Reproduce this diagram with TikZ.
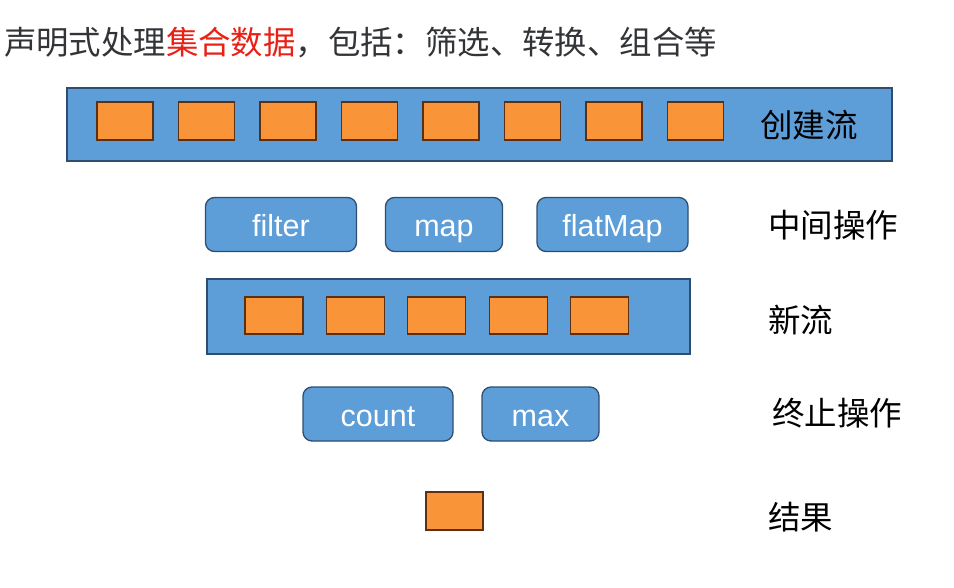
\documentclass[tikz,border=0pt]{standalone}
\usepackage{fontspec}
\setmainfont{Liberation Sans}
\newfontfamily\cjk{Noto Sans CJK SC}
\definecolor{streamblue}{RGB}{93,158,216}
\definecolor{streamedge}{RGB}{45,78,112}
\definecolor{itemorange}{RGB}{249,148,56}
\definecolor{itemedge}{RGB}{92,48,18}
\definecolor{titlegray}{RGB}{50,52,56}
\definecolor{titlered}{RGB}{232,32,22}
\tikzset{stream/.style={ % the blue band that holds the elements
            draw=streamedge,
            fill=streamblue,
            line width=1.3pt,
            inner sep=0pt},
        item/.style={ % one element of a stream
            draw=itemedge,
            fill=itemorange,
            line width=1.2pt,
            inner sep=0pt,
            minimum width=57pt,
            minimum height=37pt},
        op/.style={ % an operation
            draw=streamedge,
            fill=streamblue,
            line width=1.3pt,
            rounded corners=9pt,
            inner sep=0pt,
            minimum height=54pt,
            text height=24pt, % same baseline for every operation
            text depth=0pt,
            text=white,
            font=\fontsize{30.5}{36}\selectfont},
        rowlabel/.style={
            anchor=west,
            inner sep=0pt,
            text=black,
            font=\cjk\fontsize{32.5}{38}\selectfont}
        }

\begin{document}
\begin{tikzpicture}[x=1pt, y=-1pt]
    \useasboundingbox (0,0) rectangle (954,588);

    \node[anchor=west, inner sep=0pt, font=\cjk\fontsize{32.4}{38}\selectfont] (title) at (4,43)
        {\textcolor{titlegray}{声明式处理}\textcolor{titlered}{集合数据}\textcolor{titlegray}{，包括：筛选、转换、组合等}};

    % source stream
    \node[stream, minimum width=825pt, minimum height=73pt] (source) at (479.5,124.5) {};
    \foreach \i in {1,...,8}
        \node[item, minimum width=56pt, minimum height=38pt] (src\i) at ({125+81.5*(\i-1)},121) {};
    \node[rowlabel] (create) at (760,125) {创建流};

    % intermediate operations
    \node[op, minimum width=151pt] (filter)  at (281,224.5)   {filter};
    \node[op, minimum width=117pt] (map)     at (444,224.5)   {map};
    \node[op, minimum width=151pt] (flatmap) at (612.5,224.5) {flatMap};
    \node[rowlabel] (middle) at (768,225) {中间操作};

    % new stream
    \node[stream, minimum width=483pt, minimum height=75pt] (newstream) at (448.5,316.5) {};
    \foreach \i in {1,...,5}
        \node[item, minimum width=58pt] (new\i) at ({274+81.4*(\i-1)},315.5) {};
    \node[rowlabel] (newlabel) at (768,320) {新流};

    % terminal operations
    \node[op, minimum width=150pt] (count) at (378,414)   {count};
    \node[op, minimum width=117pt] (max)   at (540.5,414) {max};
    \node[rowlabel] (terminal) at (772,413) {终止操作};

    % result
    \node[item, minimum height=38pt] (result) at (454.5,511) {};
    \node[rowlabel] (resultlabel) at (768,517) {结果};
\end{tikzpicture}
\end{document}
